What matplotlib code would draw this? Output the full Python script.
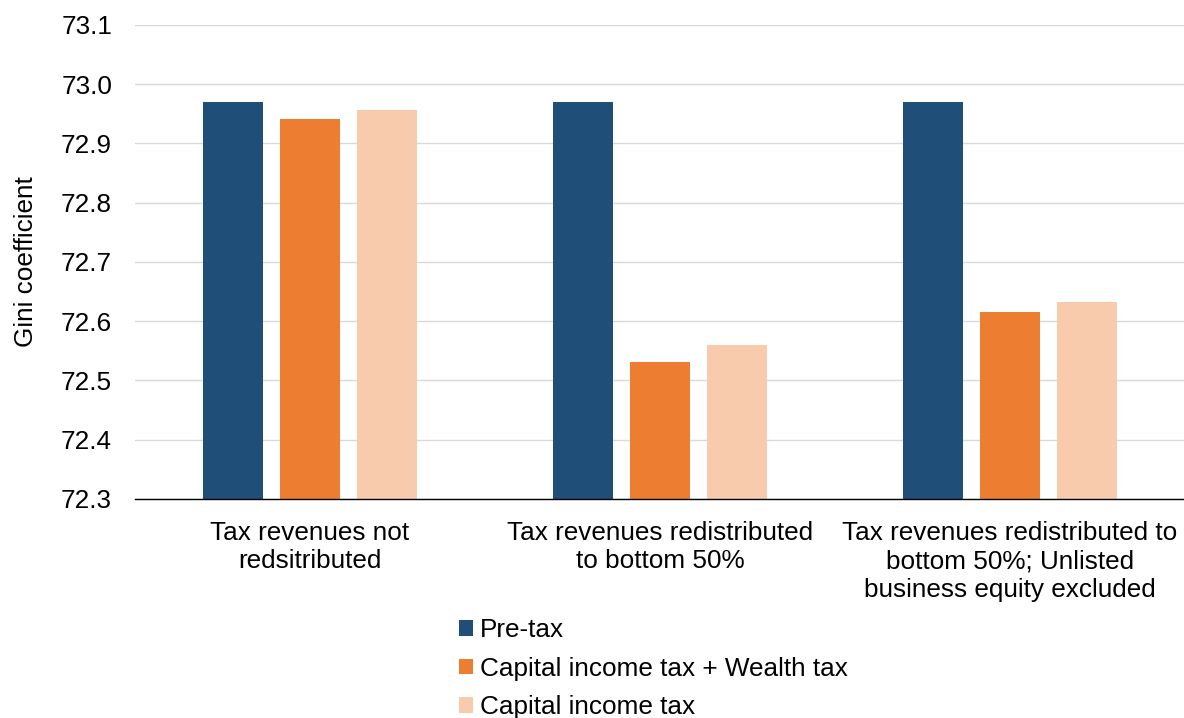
import matplotlib
matplotlib.use("Agg")
import matplotlib.pyplot as plt
import numpy as np

plt.rcParams['font.family'] = ['Liberation Sans', 'DejaVu Sans']

categories = ["Tax revenues not\nredsitributed",
              "Tax revenues redistributed\nto bottom 50%",
              "Tax revenues redistributed to\nbottom 50%; Unlisted\nbusiness equity excluded"]
series_names = ["Pre-tax", "Capital income tax + Wealth tax", "Capital income tax"]
pre_tax = [72.970, 72.970, 72.970]
cap_wealth = [72.941, 72.532, 72.616]
cap_only = [72.956, 72.560, 72.632]
colors = ["#1F4E79", "#ED7D31", "#F8CBAD"]
yticks = [72.3, 72.4, 72.5, 72.6, 72.7, 72.8, 72.9, 73.0, 73.1]

FS = 18.8
W, H = 1184, 718
fig = plt.figure(figsize=(W/100, H/100), dpi=100)
ax = fig.add_axes([135/W, 1-499/H, (1185-135)/W, (499-25)/H])

x = np.arange(len(categories))
bw = 0.172
pitch = 0.22
base = 72.3
for i, (vals, c, name) in enumerate(zip([pre_tax, cap_wealth, cap_only], colors, series_names)):
    ax.bar(x + (i-1)*pitch, np.array(vals)-base, bottom=base, width=bw, color=c, label=name, zorder=3)

ax.set_xlim(-0.5, 2.5)
ax.set_ylim(72.3, 73.1)
ax.set_yticks(yticks)
ax.set_yticklabels([f"{v:.1f}" for v in yticks], fontsize=FS)
ax.set_xticks(x)
ax.set_xticklabels(categories, fontsize=FS, linespacing=1.22)
ax.tick_params(axis='y', length=0, pad=16.5)
ax.tick_params(axis='x', length=0, pad=16)
ax.yaxis.grid(True, color="#D9D9D9", linewidth=1, zorder=0)
for s in ['top', 'right', 'left']:
    ax.spines[s].set_visible(False)
ax.spines['bottom'].set_color('black')
ax.spines['bottom'].set_linewidth(1)
ax.spines['bottom'].set_zorder(4)
ax.set_ylabel("Gini coefficient", fontsize=FS)
ax.yaxis.set_label_coords(-0.092, 0.5)

fig.legend(loc='upper left', bbox_to_anchor=(459/W, 1-618/H), frameon=False,
           fontsize=FS, handlelength=0.54, handleheight=0.54, handletextpad=0.26,
           labelspacing=0.56, borderaxespad=0, borderpad=0)

fig.savefig("out.png", dpi=100)
